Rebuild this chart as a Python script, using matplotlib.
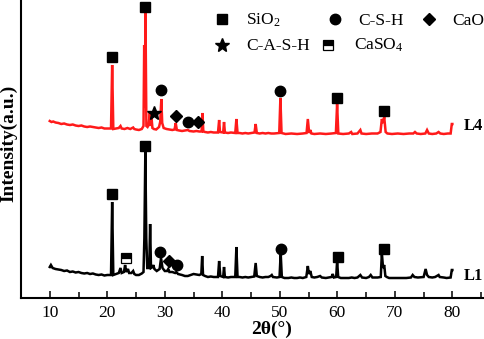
import matplotlib
matplotlib.use("Agg")
import matplotlib.pyplot as plt
from matplotlib.ticker import MultipleLocator

plt.rcParams['font.family'] = ['Liberation Serif', 'DejaVu Serif']
plt.rcParams['mathtext.fontset'] = 'custom'
plt.rcParams['mathtext.rm'] = 'Liberation Serif'
plt.rcParams['mathtext.it'] = 'Liberation Serif:italic'
plt.rcParams['mathtext.bf'] = 'Liberation Serif:bold'

# ---------------- data ----------------
# L1 pattern (black): 2theta, intensity (a.u.)
l1_theta = [10.0, 10.2, 10.5, 11.0, 11.5, 12.0, 12.5, 13.0, 13.5, 14.0, 14.5, 15.0, 15.5, 16.0, 16.5,
            17.0, 17.5, 18.0, 18.5, 19.0, 19.5, 20.0, 20.65, 20.85, 21.05, 21.5, 22.0, 22.3, 22.5, 22.9,
            23.1, 23.3, 23.6, 23.8, 24.2, 24.5, 24.7, 25.0, 25.5, 26.0, 26.3, 26.45, 26.62, 26.78, 26.95,
            27.3, 27.45, 27.6, 27.9, 28.0, 28.2, 28.6, 29.1, 29.35, 29.6, 30.0, 30.4, 30.6, 30.8, 31.3,
            31.8, 32.0, 32.3, 33.0, 33.5, 34.0, 34.5, 35.0, 35.5, 36.0, 36.35, 36.5, 36.65, 37.0, 37.5,
            38.0, 38.5, 39.25, 39.45, 39.65, 40.15, 40.3, 40.45, 41.0, 41.5, 42.25, 42.45, 42.65, 43.0,
            43.5, 44.0, 44.5, 45.0, 45.55, 45.8, 46.0, 46.5, 47.0, 47.5, 48.0, 48.4, 48.6, 48.8, 49.5,
            49.95, 50.15, 50.35, 50.8, 51.5, 52.0, 52.5, 53.0, 53.5, 54.0, 54.6, 54.87, 55.05, 55.3,
            55.55, 56.0, 56.5, 57.0, 57.3, 58.0, 58.5, 59.0, 59.2, 59.4, 59.8, 59.96, 60.15, 60.6, 61.0,
            62.0, 62.5, 63.0, 63.5, 64.0, 64.3, 65.0, 65.5, 65.8, 66.1, 67.0, 67.55, 67.74, 67.95, 68.15,
            68.35, 68.6, 69.0, 70.0, 71.0, 72.0, 72.8, 73.1, 73.4, 74.0, 75.0, 75.35, 75.6, 75.9, 76.5,
            77.0, 77.6, 77.8, 78.5, 79.0, 79.7, 79.9, 80.0]
l1_int = [31, 33, 30, 29, 28.5, 28, 27, 27.5, 26, 26.5, 25.5, 26, 25, 24.5, 25,
          24, 24.5, 23.5, 23, 23.5, 22.5, 23, 23, 96, 23, 24, 25, 30, 25, 26,
          33, 26, 29, 25, 25, 27, 24, 23, 23, 24.5, 26, 60, 148, 60, 30,
          30, 74, 30, 31, 33, 29, 27, 29, 40, 30, 27, 27, 29, 26, 26,
          25, 26, 24, 23, 22, 22, 23, 24, 23.5, 23, 24, 42, 23, 22, 21,
          21.5, 21, 21, 37, 22, 21, 31, 21, 20.5, 21, 21, 51, 21, 21,
          20.5, 21, 20.5, 21, 21.5, 35, 22, 21, 20.5, 21, 21, 22, 23, 21, 20.5,
          21, 45, 21, 20, 20, 20.5, 20, 20, 20.5, 20, 21, 32, 24, 27,
          21, 20.5, 21, 22, 20.5, 20, 20.5, 21, 24, 20.5, 21, 37, 21, 20, 20,
          20, 20.5, 20, 20.5, 23, 20.5, 20, 21, 23, 20.5, 20.5, 21, 45, 30, 33,
          22, 21, 20, 20, 20, 20, 20.5, 23, 21, 20.5, 21, 29, 23, 21, 20.5,
          21, 23, 21, 20.5, 20, 20.5, 28, 28]

# L4 pattern (red)
l4_theta = [10.0, 10.3, 10.6, 11.0, 11.5, 12.0, 12.5, 13.0, 13.5, 14.0, 14.5, 15.0, 15.5, 16.0, 16.5,
            17.0, 17.5, 18.0, 18.5, 19.0, 19.5, 20.0, 20.65, 20.85, 21.05, 21.5, 22.0, 22.3, 22.5, 23.0,
            23.5, 24.0, 24.5, 24.7, 25.0, 25.5, 26.0, 26.3, 26.42, 26.52, 26.64, 26.8, 27.0, 27.2, 27.4,
            27.55, 27.7, 27.85, 28.1, 28.5, 29.0, 29.2, 29.4, 29.55, 29.8, 30.3, 30.8, 31.3, 31.7, 31.9,
            32.1, 32.5, 33.0, 33.5, 34.0, 34.3, 35.0, 35.5, 36.0, 36.4, 36.55, 36.7, 37.0, 37.5, 38.0,
            38.5, 39.25, 39.45, 39.6, 40.15, 40.3, 40.45, 41.0, 41.5, 42.25, 42.45, 42.65, 43.0, 43.5,
            44.0, 44.5, 45.0, 45.6, 45.8, 46.0, 46.5, 47.0, 47.5, 48.0, 48.5, 49.0, 49.9, 50.1, 50.3,
            51.0, 52.0, 53.0, 54.0, 54.65, 54.87, 55.1, 55.3, 55.5, 56.0, 57.0, 58.0, 59.0, 59.75, 59.96,
            60.17, 61.0, 62.0, 62.4, 62.6, 63.5, 64.0, 64.2, 65.0, 66.0, 67.0, 67.5, 67.74, 67.95, 68.15,
            68.4, 68.7, 69.5, 70.5, 71.5, 72.5, 73.2, 73.5, 73.8, 74.5, 75.3, 75.6, 75.9, 76.5, 77.2,
            77.6, 77.9, 78.5, 79.2, 79.7, 79.9, 80.0]
l4_int = [177, 176, 176.5, 175.5, 175, 174, 174.5, 173.5, 173, 173.5, 172.5, 172, 172.5, 171.5, 171,
          171.5, 171, 170.5, 170, 170.5, 169.5, 169.5, 169.5, 233, 169, 169.5, 170, 172, 169.5, 169,
          170, 169, 170.5, 169, 168.5, 168, 169, 172, 253, 190, 286, 172, 171, 173, 186,
          172, 180, 170, 169, 168.5, 171, 176, 199, 175, 170, 169, 168.5, 168, 168.5, 175,
          168, 167.5, 167, 167.5, 168, 167, 166.5, 167, 166.5, 166.5, 185, 166.5, 166, 165.5, 166,
          165.5, 165.5, 178, 166, 165.5, 176, 165.5, 165, 165.5, 165, 179, 165, 165, 164.5,
          165, 164.5, 165, 165.5, 174, 165, 164.5, 165, 164.5, 165, 164.5, 164.5, 165, 200, 165,
          164, 164.5, 164, 164.5, 165, 179, 165, 168, 164.5, 164, 164.5, 164, 164.5, 165, 194,
          164.5, 164, 164.5, 166, 164, 164.5, 168, 164.5, 164, 164.5, 164.5, 166, 179, 175, 181,
          166, 164.5, 164, 164.5, 164, 164.5, 164.5, 166, 164.5, 164, 164.5, 168, 164.5, 164, 164.5,
          166, 164.5, 164, 164.5, 164.5, 174, 174]

# phase identification markers: (2theta, intensity)
l4_sio2 = ([20.85, 26.6, 60.0, 68.2], [241, 291, 200, 187])
l4_cash = ([28.1], [185])
l4_csh = ([29.4, 34.0, 50.1], [208, 176, 207])
l4_cao = ([32.0, 35.7], [182, 176])

l1_sio2 = ([20.8, 26.6, 60.1, 68.1], [104, 152, 41, 49])
l1_caso4 = ([23.2], [40])
l1_csh = ([29.2, 32.2, 50.2], [46, 33, 49])
l1_cao = ([30.8], [37])

sample_labels = ["L4", "L1"]
sample_label_y = [172, 22]

legend_labels = ["SiO$_2$", "C-S-H", "CaO", "C-A-S-H", "CaSO$_4$"]

# ---------------- figure ----------------
W, H = 484, 339
fig = plt.figure(figsize=(W / 100, H / 100), dpi=100)
ax = fig.add_axes([21 / W, 41 / H, (W - 21) / W, 298 / H])

ax.plot(l4_theta, l4_int, color='#ff1a1a', lw=1.8, solid_joinstyle='miter')
ax.plot(l1_theta, l1_int, color='black', lw=1.8, solid_joinstyle='miter')

sq = dict(marker='s', ms=6.8, color='black', ls='none')
ci = dict(marker='o', ms=7.5, color='black', ls='none')
di = dict(marker='D', ms=6.2, color='black', ls='none')
st = dict(marker='*', ms=10, color='black', ls='none')
cs = dict(marker='s', ms=6.8, ls='none', markerfacecolor='black', markerfacecoloralt='white',
          fillstyle='top', markeredgecolor='black', markeredgewidth=0.9)

ax.plot(*l4_sio2, **sq)
ax.plot(*l4_cash, **st)
ax.plot(*l4_csh, **ci)
ax.plot(*l4_cao, **di)
ax.plot(*l1_sio2, **sq)
ax.plot(*l1_caso4, **cs)
ax.plot(*l1_csh, **ci)
ax.plot(*l1_cao, **di)

for lab, yv in zip(sample_labels, sample_label_y):
    ax.text(82.0, yv, lab, fontsize=12, fontweight='bold', ha='left', va='center')

ax.set_xlim(5, 85.5)
ax.set_ylim(0, 298)
ax.xaxis.set_minor_locator(MultipleLocator(5))
ax.set_xticks(range(10, 81, 10))
ax.set_xticklabels([str(v) for v in range(10, 81, 10)])
ax.tick_params(axis='x', which='major', direction='in', length=5, width=1.1, labelsize=12.5, pad=5)
ax.tick_params(axis='x', which='minor', direction='in', length=4, width=1.1)
ax.set_yticks([])
for s in ['top', 'right']:
    ax.spines[s].set_visible(False)
for s in ['left', 'bottom']:
    ax.spines[s].set_linewidth(1.5)

fig.text(8.5 / W, 1 - 143 / H, 'Intensity(a.u.)', rotation=90, fontsize=14, fontweight='bold',
         ha='center', va='center')
fig.text(272 / W, 1 - 329 / H, '2θ(°)', fontsize=14, fontweight='bold', ha='center', va='center')

# legend (manual layout)
leg_handles = [sq, ci, di, st, cs]
leg_marker_px = [(221.7, 18.5), (334.7, 18.5), (428.7, 18.5), (221.7, 44.5), (328.0, 44.5)]
leg_text_px = [(246, 25), (358, 25), (452, 25), (246, 50), (353.7, 50)]
for h, (mx, my), (tx, ty), lab in zip(leg_handles, leg_marker_px, leg_text_px, legend_labels):
    fig.lines.append(plt.Line2D([mx / W], [1 - my / H], transform=fig.transFigure, **h))
    fig.text(tx / W, 1 - ty / H, lab, fontsize=12.5, ha='left', va='baseline')

fig.savefig('out.png', dpi=100)
